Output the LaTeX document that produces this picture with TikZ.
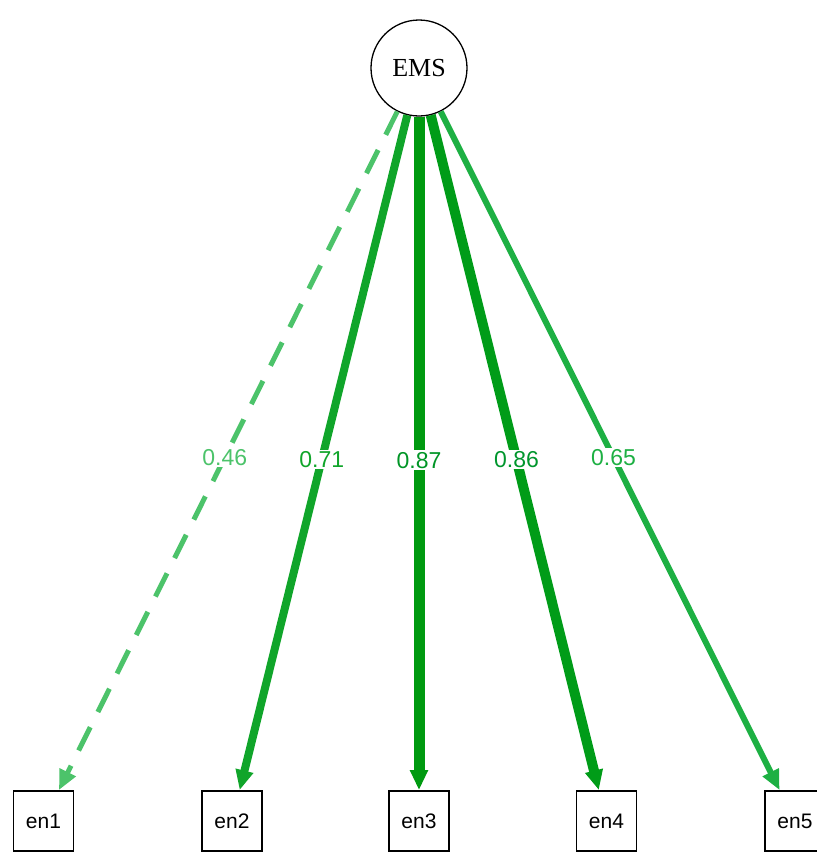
\documentclass[tikz,border=0pt]{standalone}
\usepackage{fontspec}
\setmainfont{Liberation Serif}
\newfontfamily\arialfont{Liberation Sans}
\usetikzlibrary{arrows.meta}
\definecolor{cA}{HTML}{4CC36A}
\definecolor{cB}{HTML}{10A52A}
\definecolor{cC}{HTML}{009A10}
\definecolor{cD}{HTML}{009C18}
\definecolor{cE}{HTML}{1DB043}
\tikzset{
  latent/.style={circle, draw=black, line width=1.3pt, minimum size=96pt, inner sep=0pt, font=\fontsize{26}{26}\selectfont},
  manifest/.style={rectangle, draw=black, line width=1.8pt, minimum width=60pt, minimum height=60pt, inner sep=0pt, font=\arialfont\fontsize{21}{21}\selectfont},
  loading/.style={-{Triangle[length=20pt,width=17pt]}},
  lbl/.style={fill=white, inner sep=1.5pt, font=\arialfont\fontsize{23}{23}\selectfont}
}
\begin{document}
\begin{tikzpicture}[x=1pt,y=-1pt]
\useasboundingbox (0,0) rectangle (817,855);
\node[latent] (ems) at (419,68) {EMS};
\node[manifest] (en1) at (43.5,821) {en1};
\node[manifest] (en2) at (232,821) {en2};
\node[manifest] (en3) at (419,821) {en3};
\node[manifest] (en4) at (606.5,821) {en4};
\node[manifest] (en5) at (795,821) {en5};
\draw[loading, cA, line width=5pt, dash pattern=on 26pt off 17pt] (ems) -- node[lbl, pos=0.51, text=cA] {0.46} (en1);
\draw[loading, cB, line width=8pt] (ems) -- node[lbl, pos=0.51, text=cB] {0.71} (en2);
\draw[loading, cC, line width=11pt] (ems) -- node[lbl, pos=0.51, text=cC!80!teal] {0.87} (en3);
\draw[loading, cD, line width=10pt] (ems) -- node[lbl, pos=0.51, text=cD!80!teal] {0.86} (en4);
\draw[loading, cE, line width=6pt] (ems) -- node[lbl, pos=0.51, text=cE] {0.65} (en5);
\end{tikzpicture}
\end{document}
